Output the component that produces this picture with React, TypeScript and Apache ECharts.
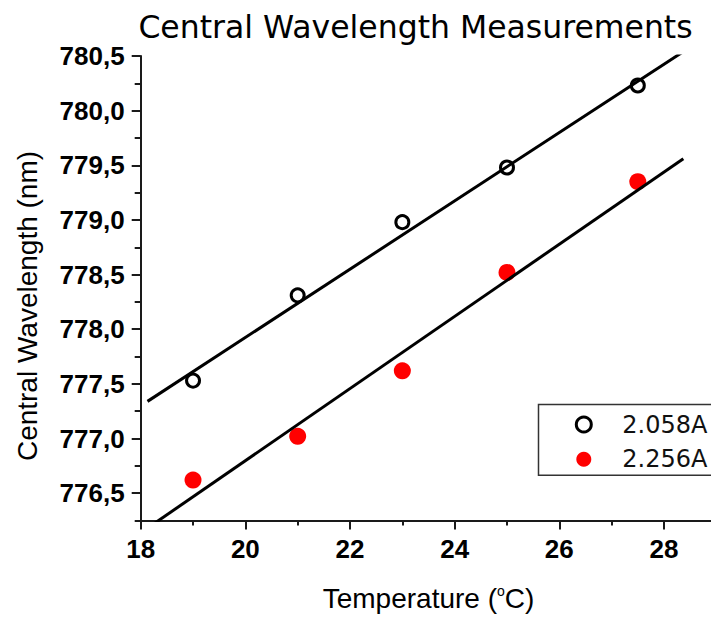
import React, { useEffect, useRef } from 'react';
import * as echarts from 'echarts';

// ---- data ----
const temperatures = [19, 21, 23, 25, 27.5];
const wavelength2058 = [777.53, 778.31, 778.98, 779.48, 780.23];
const wavelength2256 = [776.62, 777.02, 777.62, 778.52, 779.35];
const fitX = [18.13, 28.37];
const fit2058 = [777.34, 780.54];
const fit2256 = [776.18, 779.56];
const seriesNames = ['2.058A', '2.256A'];
const xTicks = [18, 20, 22, 24, 26, 28];
const xMinorTicks = [19, 21, 23, 25, 27];
const yTicks = [776.5, 777.0, 777.5, 778.0, 778.5, 779.0, 779.5, 780.0, 780.5];
const yMinorTicks = [776.25, 776.75, 777.25, 777.75, 778.25, 778.75, 779.25, 779.75, 780.25];
const titleText = 'Central Wavelength Measurements';
const yName = 'Central Wavelength (nm)';

const ARIAL = '"Liberation Sans", Arial, sans-serif';
const AXIS = '#1a1a1a';

export default function App() {
  const ref = useRef<HTMLDivElement>(null);
  useEffect(() => {
    if (!ref.current) return;
    const chart = echarts.init(ref.current, undefined, { renderer: 'svg' });
    const option: any = {
      animation: false,
      backgroundColor: '#ffffff',
      grid: { left: 140.7, top: 56, right: 13.7, bottom: 96.3, containLabel: false },
      graphic: [
        {
          type: 'text', x: 415.5, y: 26.6,
          style: { text: titleText, fontSize: 31.5, fontFamily: '"DejaVu Sans", sans-serif', fill: '#000', align: 'center', verticalAlign: 'middle' },
        },
        {
          type: 'text', x: 27, y: 306, rotation: Math.PI / 2,
          style: { text: yName, fontSize: 28, fontFamily: ARIAL, fill: '#000', align: 'center', verticalAlign: 'middle' },
        },
      ],
      legend: {
        orient: 'vertical',
        left: 538.5,
        top: 404.5,
        data: [
          { name: seriesNames[0], itemStyle: { borderWidth: 3, borderColor: '#000' } },
          { name: seriesNames[1] },
        ],
        itemWidth: 15,
        itemHeight: 15,
        itemGap: 10.7,
        padding: [8, 20, 4, 36.3],
        borderColor: '#333',
        borderWidth: 1.5,
        borderRadius: 0,
        formatter: (name: string) => `{a|${name}}`,
        textStyle: {
          fontSize: 24, fontFamily: '"DejaVu Sans", sans-serif', color: '#111',
          rich: { a: { fontSize: 24, fontFamily: '"DejaVu Sans", sans-serif', color: '#111', padding: [0, 0, 0, 26] } },
        },
      },
      xAxis: [
        {
          type: 'value', min: 18, max: 29, interval: 2, position: 'bottom',
          name: '{t|Temperature (}{s|o}{t|C)}',
          nameLocation: 'middle', nameGap: 63.5,
          nameTextStyle: {
            rich: {
              t: { fontSize: 28, fontFamily: ARIAL, color: '#000' },
              s: { fontSize: 14, fontFamily: ARIAL, color: '#000', verticalAlign: 'top' },
            },
          },
          axisLine: { show: true, onZero: false, lineStyle: { color: AXIS, width: 2 } },
          axisTick: { show: true, inside: false, length: 9, lineStyle: { color: AXIS, width: 2 }, customValues: xTicks },
          axisLabel: { margin: 15, fontSize: 26, fontWeight: 'bold', fontFamily: ARIAL, color: '#000', customValues: xTicks },
          splitLine: { show: false },
        },
        {
          type: 'value', min: 18, max: 29, interval: 1, position: 'bottom',
          axisLine: { show: false, onZero: false },
          axisTick: { show: true, inside: false, length: 5, lineStyle: { color: AXIS, width: 2 }, customValues: xMinorTicks },
          axisLabel: { show: false },
          splitLine: { show: false },
        },
      ],
      yAxis: [
        {
          type: 'value', min: 776.25, max: 780.5, minInterval: 0.5, maxInterval: 0.5, splitNumber: 9, position: 'left',
          axisLine: { show: true, onZero: false, lineStyle: { color: AXIS, width: 2 } },
          axisTick: { show: true, inside: false, length: 9, lineStyle: { color: AXIS, width: 2 }, customValues: yTicks },
          axisLabel: {
            margin: 16, fontSize: 26, fontWeight: 'bold', fontFamily: ARIAL, color: '#000', customValues: yTicks,
            formatter: (v: number) => (Math.abs(v * 2 - Math.round(v * 2)) < 1e-6 ? v.toFixed(1).replace('.', ',') : ''),
          },
          splitLine: { show: false },
        },
        {
          type: 'value', min: 776.25, max: 780.5, interval: 0.25, position: 'left',
          axisLine: { show: false, onZero: false },
          axisTick: { show: true, inside: false, length: 6, lineStyle: { color: AXIS, width: 2 }, customValues: yMinorTicks },
          axisLabel: { show: false },
          splitLine: { show: false },
        },
      ],
      series: [
        {
          name: seriesNames[0], type: 'scatter', z: 2,
          data: temperatures.map((t, i) => [t, wavelength2058[i]]),
          symbol: 'circle', symbolSize: 13,
          itemStyle: { color: 'rgba(255,255,255,0)', borderColor: '#000', borderWidth: 3, opacity: 1 },
        },
        {
          name: seriesNames[1], type: 'scatter', z: 2,
          data: temperatures.map((t, i) => [t, wavelength2256[i]]),
          symbol: 'circle', symbolSize: 17,
          itemStyle: { color: '#ff0000', opacity: 1 },
        },
        {
          name: 'fit ' + seriesNames[0], type: 'line', z: 3, clip: true, showSymbol: false, symbol: 'none',
          data: fitX.map((x, i) => [x, fit2058[i]]),
          lineStyle: { color: '#000', width: 3 },
        },
        {
          name: 'fit ' + seriesNames[1], type: 'line', z: 3, clip: true, showSymbol: false, symbol: 'none',
          data: fitX.map((x, i) => [x, fit2256[i]]),
          lineStyle: { color: '#000', width: 3 },
        },
      ],
    };
    chart.setOption(option);
    return () => chart.dispose();
  }, []);
  return (
    <div style={{ position: 'absolute', left: 0, top: 0, width: 711, height: 617, overflow: 'hidden', background: '#fff' }}>
      <div ref={ref} style={{ width: 730, height: 617 }} />
    </div>
  );
}
